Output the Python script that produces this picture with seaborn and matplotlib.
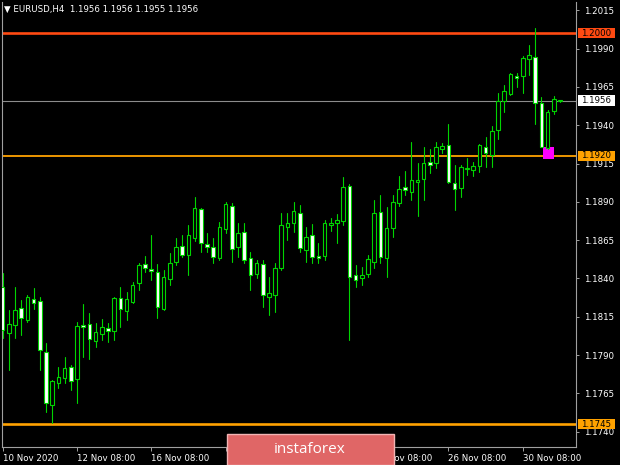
import matplotlib
matplotlib.use('Agg')
import matplotlib.pyplot as plt
from matplotlib.patches import Rectangle
import numpy as np
import pandas as pd
import seaborn as sns

# EURUSD H4 candles (10 Nov 2020 08:00 onwards)
opens = [1.18346, 1.18046, 1.18096, 1.18205, 1.18129, 1.18264, 1.18253, 1.17922, 1.17574, 1.17719,
         1.17748, 1.17824, 1.17741, 1.18096, 1.18102, 1.17993, 1.18037, 1.18074, 1.18059, 1.18274,
         1.18189, 1.18248, 1.18372, 1.18492, 1.18463, 1.18444, 1.18198, 1.18394, 1.18509, 1.18612,
         1.18553, 1.18662, 1.18851, 1.18625, 1.18603, 1.18531, 1.18721, 1.18873, 1.18603, 1.18705,
         1.18531, 1.18429, 1.18492, 1.18281, 1.18292, 1.18466, 1.18734, 1.18760, 1.18829, 1.18586,
         1.18683, 1.18546, 1.18546, 1.18749, 1.18764, 1.18777, 1.19003, 1.18422, 1.18401, 1.18429,
         1.18509, 1.18835, 1.18531, 1.18727, 1.18890, 1.18995, 1.18966, 1.19029, 1.19047, 1.19162,
         1.19151, 1.19247, 1.19271, 1.19021, 1.18988, 1.19114, 1.19108, 1.19134, 1.19260, 1.19206,
         1.19369, 1.19560, 1.19604, 1.19721, 1.19721, 1.19830, 1.19847, 1.19543, 1.19249, 1.19495,
         1.19560]
highs = [1.18433, 1.18194, 1.18346, 1.18259, 1.18292, 1.18336, 1.18281, 1.17977, 1.17737, 1.17824,
         1.17889, 1.17835, 1.18118, 1.18231, 1.18176, 1.18111, 1.18133, 1.18107, 1.18281, 1.18346,
         1.18313, 1.18379, 1.18499, 1.18546, 1.18683, 1.18492, 1.18455, 1.18564, 1.18662, 1.18683,
         1.18749, 1.18933, 1.18858, 1.18695, 1.18662, 1.18770, 1.18901, 1.18890, 1.18760, 1.18760,
         1.18574, 1.18520, 1.18520, 1.18411, 1.18499, 1.18825, 1.18825, 1.18901, 1.18879, 1.18738,
         1.18755, 1.18633, 1.18781, 1.18792, 1.18820, 1.19060, 1.19016, 1.18488, 1.18477, 1.18553,
         1.18912, 1.18945, 1.18864, 1.18945, 1.19069, 1.19103, 1.19292, 1.19151, 1.19260, 1.19243,
         1.19292, 1.19286, 1.19408, 1.19140, 1.19140, 1.19184, 1.19162, 1.19277, 1.19325, 1.19395,
         1.19612, 1.19663, 1.19739, 1.19743, 1.19852, 1.19924, 1.20033, 1.19586, 1.19499, 1.19591,
         1.19560]
lows = [1.18009, 1.17802, 1.18009, 1.18031, 1.18118, 1.18198, 1.17802, 1.17530, 1.17454, 1.17683,
        1.17715, 1.17672, 1.17585, 1.17889, 1.17872, 1.17954, 1.17998, 1.17987, 1.17998, 1.18085,
        1.18129, 1.18238, 1.18324, 1.18444, 1.18390, 1.18140, 1.18194, 1.18357, 1.18488, 1.18538,
        1.18422, 1.18646, 1.18574, 1.18574, 1.18499, 1.18520, 1.18695, 1.18509, 1.18542, 1.18499,
        1.18324, 1.18401, 1.18215, 1.18161, 1.18183, 1.18455, 1.18651, 1.18705, 1.18574, 1.18509,
        1.18499, 1.18499, 1.18520, 1.18711, 1.18633, 1.18749, 1.17998, 1.18346, 1.18357, 1.18411,
        1.18466, 1.18499, 1.18411, 1.18672, 1.18873, 1.18945, 1.18912, 1.18807, 1.18912, 1.19086,
        1.19119, 1.19217, 1.19025, 1.18847, 1.18933, 1.19075, 1.19069, 1.19097, 1.19129, 1.19125,
        1.19308, 1.19488, 1.19597, 1.19648, 1.19612, 1.19728, 1.19408, 1.19256, 1.19243, 1.19473,
        1.19550]
closes = [1.18063, 1.18102, 1.18194, 1.18140, 1.18277, 1.18242, 1.17933, 1.17585, 1.17732, 1.17758,
          1.17813, 1.17732, 1.18091, 1.18081, 1.18003, 1.18052, 1.18085, 1.18057, 1.18270, 1.18198,
          1.18264, 1.18357, 1.18488, 1.18468, 1.18450, 1.18211, 1.18411, 1.18503, 1.18603, 1.18553,
          1.18683, 1.18858, 1.18629, 1.18607, 1.18538, 1.18734, 1.18886, 1.18590, 1.18695, 1.18520,
          1.18422, 1.18503, 1.18292, 1.18307, 1.18466, 1.18749, 1.18764, 1.18842, 1.18597, 1.18672,
          1.18542, 1.18531, 1.18764, 1.18764, 1.18781, 1.18995, 1.18411, 1.18390, 1.18422, 1.18525,
          1.18829, 1.18542, 1.18727, 1.18901, 1.18982, 1.18977, 1.19042, 1.19042, 1.19151, 1.19140,
          1.19260, 1.19264, 1.19031, 1.18982, 1.19129, 1.19123, 1.19136, 1.19271, 1.19221, 1.19364,
          1.19560, 1.19623, 1.19734, 1.19706, 1.19837, 1.19858, 1.19543, 1.19260, 1.19488, 1.19569,
          1.19560]

date_ticks = [0, 12, 24, 36, 48, 60, 72, 84]
# the 18 Nov / 20 Nov labels sit under the banner and are not visible
date_labels = ['10 Nov 2020', '12 Nov 08:00', '16 Nov 08:00', '',
               '', '24 Nov 08:00', '26 Nov 08:00', '30 Nov 08:00']
price_ticks = [1.2015, 1.1990, 1.1965, 1.1940, 1.1915, 1.1890,
               1.1865, 1.1840, 1.1815, 1.1790, 1.1765, 1.1740]

levels = [1.2000, 1.1920, 1.1745]
level_colors = ['#ff4a12', '#ffa200', '#ffa200']
level_widths = [1.9, 1.3, 1.9]
last_price = 1.1956
header = '\u25bc EURUSD,H4  1.1956 1.1956 1.1955 1.1956'
# magenta rectangle object on the chart: bar start, bar end, low, high
zone_bars = [87.2, 89.1]
zone_prices = [1.1918, 1.1926]

green = '#00d400'

df = pd.DataFrame({'open': opens, 'high': highs, 'low': lows, 'close': closes})
df['bar'] = np.arange(len(df))
df['bull'] = df['close'] >= df['open']
df['body_low'] = df[['open', 'close']].min(axis=1)
df['body_h'] = (df['close'] - df['open']).abs().clip(lower=0.00005)

# long form for the wicks
wicks = pd.concat([df[['bar', 'high']].rename(columns={'high': 'price'}),
                   df[['bar', 'low']].rename(columns={'low': 'price'})])

sns.set_style('dark', rc={'axes.facecolor': 'black', 'figure.facecolor': 'black'})
plt.rcParams['font.family'] = ['DejaVu Sans']

fig = plt.figure(figsize=(6.2, 4.65), dpi=100)
ax = fig.add_axes([2 / 620, 18 / 465, 574 / 620, 445 / 465])
ax.set_facecolor('black')

# level lines
for lv, c, w in zip(levels, level_colors, level_widths):
    ax.axhline(lv, color=c, lw=w, zorder=1)
ax.axhline(last_price, color='#8c8c8c', lw=0.8, zorder=1)

ax.add_patch(Rectangle((zone_bars[0], zone_prices[0]), zone_bars[1] - zone_bars[0],
                       zone_prices[1] - zone_prices[0], fc='#ff00ff', ec='none', zorder=2))

sns.lineplot(data=wicks, x='bar', y='price', units='bar', estimator=None,
             color=green, lw=0.8, ax=ax, zorder=3)
ax.bar(df['bar'], df['body_h'], bottom=df['body_low'], width=0.58,
       color=np.where(df['bull'], 'black', 'white'), edgecolor=green,
       linewidth=0.8, zorder=4)

ax.set_xlim(-0.11, 92.6)
ax.set_ylim(1.17300, 1.20204)
ax.set_xlabel('')
ax.set_ylabel('')

ax.yaxis.tick_right()
ax.set_yticks(price_ticks)
ax.set_yticklabels([f'{v:.4f}' for v in price_ticks])
ax.set_xticks(date_ticks)
ax.set_xticklabels(date_labels, ha='left')
ax.tick_params(axis='y', colors='#a0a0a0', labelcolor='white', length=2.5, width=0.7,
               labelsize=6.2, pad=3, right=True, left=False)
ax.tick_params(axis='x', colors='#a0a0a0', labelcolor='white', length=3, width=0.7,
               labelsize=6.2, pad=2, bottom=True)
ax.grid(False)
for side in ['left', 'right', 'bottom']:
    ax.spines[side].set_visible(True)
    ax.spines[side].set_color('#a0a0a0')
    ax.spines[side].set_linewidth(0.8)
ax.spines['top'].set_visible(False)

# price labels on the right scale
ytr = ax.get_yaxis_transform()
box_labels = list(zip(levels, level_colors)) + [(last_price, 'white')]
for p, c in box_labels:
    ax.add_patch(Rectangle((1 + 2 / 574, p - 5.2 / 15320), 37 / 574, 10.4 / 15320,
                           transform=ytr, fc=c, ec='none', clip_on=False, zorder=6))
    ax.text(1 + 5.5 / 574, p, f'{p:.4f}', transform=ytr, color='black', fontsize=6.2,
            va='center', ha='left', clip_on=False, zorder=7)

fig.text(4 / 620, 1 - 9 / 465, header, color='white', fontsize=6.2, va='center', ha='left')

# instaforex banner
fig.add_artist(Rectangle((227 / 620, 0), 167 / 620, 31 / 465, transform=fig.transFigure,
                         fc='#e06666', ec='#f2b4b4', lw=1, zorder=10))
fig.text(310 / 620, 1 - 449 / 465, 'instaforex', color='white', fontsize=11,
         family='Open Sans', ha='center', va='center', zorder=11)

fig.savefig('out.png', dpi=100, facecolor='black')
